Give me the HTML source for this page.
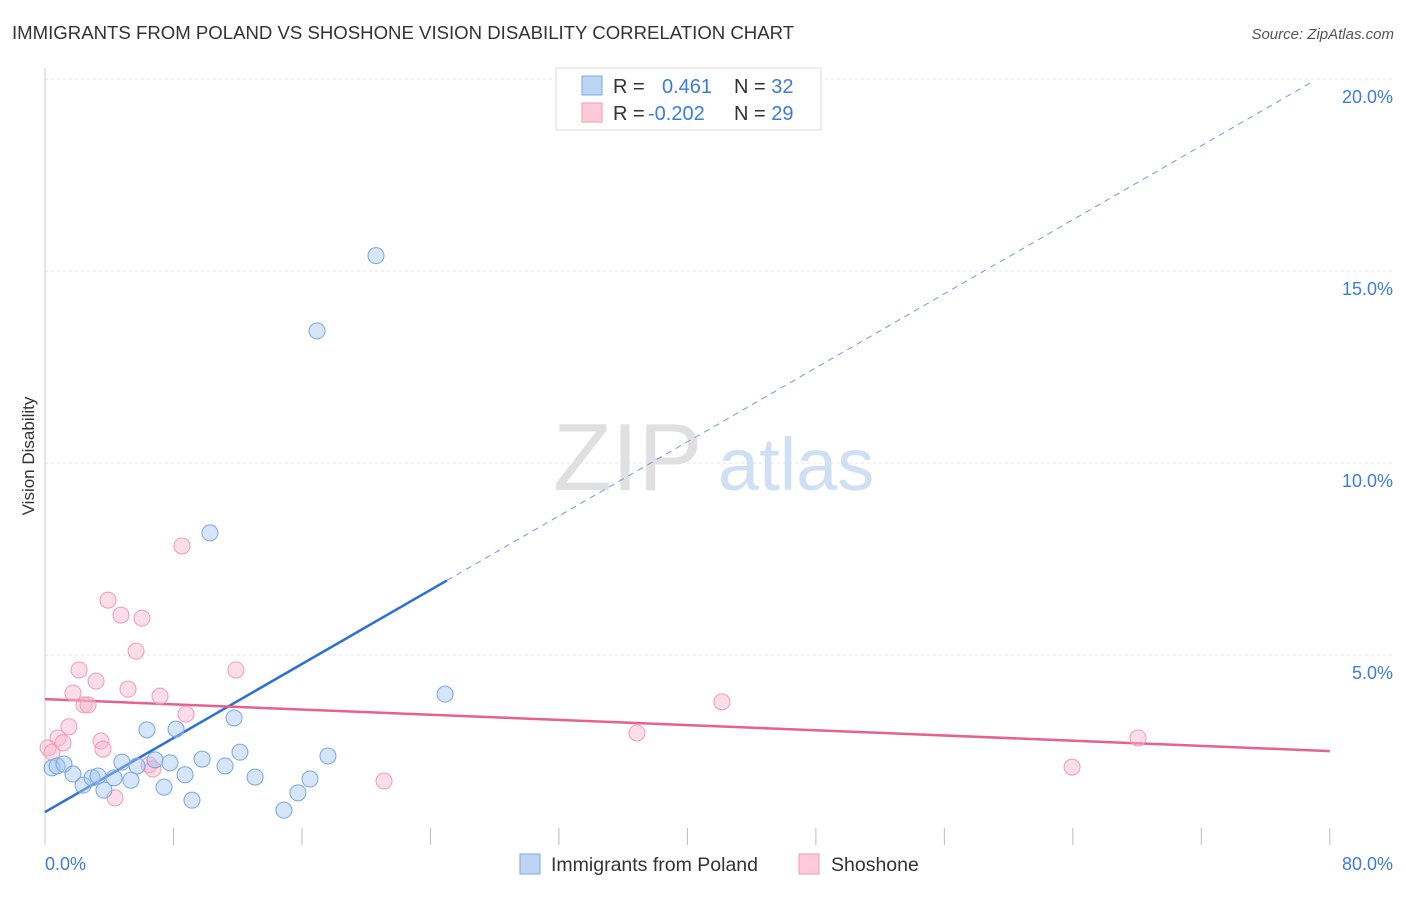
<!DOCTYPE html>
<html><head><meta charset="utf-8"><style>
body{margin:0;background:#fff;font-family:"Liberation Sans",sans-serif}
svg text{font-family:"Liberation Sans",sans-serif}
</style></head><body>
<svg width="1406" height="892" viewBox="0 0 1406 892">
<text x="12" y="39" font-size="18.6" fill="#333">IMMIGRANTS FROM POLAND VS SHOSHONE VISION DISABILITY CORRELATION CHART</text>
<text x="1394" y="39" font-size="15" fill="#555" text-anchor="end" font-style="italic">Source: ZipAtlas.com</text>
<text x="34" y="456" font-size="17" fill="#333" text-anchor="middle" transform="rotate(-90 34 456)">Vision Disability</text>
<g id="grid"></g>
<g id="ticks"></g>
<line x1="45" y1="68" x2="45" y2="845" stroke="#ccc"/>
<text x="553" y="490" font-size="96" fill="#e0e0e0" font-family="Liberation Serif">ZIP</text>
<text x="718" y="490" font-size="74" fill="#cfe0f5">atlas</text>
<g id="lines"></g>
<g id="pts"></g>
<text x="45" y="870" font-size="18" fill="#3b7dd8">0.0%</text>
<text x="1393" y="870" font-size="18" fill="#3b7dd8" text-anchor="end">80.0%</text>
<g>
<rect x="556" y="68" width="265" height="62" fill="#fff" stroke="#ddd"/>
<rect x="582" y="76" width="20" height="19" fill="#bcd5f5" stroke="#7aa8e4"/>
<rect x="582" y="103" width="20" height="19" fill="#fbcbd9" stroke="#f09ab5"/>
<text x="613" y="93" font-size="20" fill="#333">R = <tspan fill="#3b7dd8" x="662">0.461</tspan><tspan x="734">N = </tspan><tspan fill="#3b7dd8">32</tspan></text>
<text x="613" y="120" font-size="20" fill="#333">R = <tspan fill="#3b7dd8" x="648">-0.202</tspan><tspan x="734">N = </tspan><tspan fill="#3b7dd8">29</tspan></text>
</g>
<g>
<rect x="520" y="854" width="20" height="20" fill="#bcd5f5" stroke="#7aa8e4"/>
<text x="551" y="871" font-size="19.5" fill="#333">Immigrants from Poland</text>
<rect x="799" y="854" width="20" height="20" fill="#fbcbd9" stroke="#f09ab5"/>
<text x="831" y="871" font-size="19.5" fill="#333">Shoshone</text>
</g>
</svg>
<script>
const blueX=[0.44,0.75,1.18,1.74,2.37,2.93,3.30,3.67,4.30,4.79,5.35,5.73,6.35,6.85,7.41,7.78,8.16,8.72,9.15,9.78,10.27,11.21,11.77,12.14,13.08,14.88,15.75,16.50,17.62,16.94,20.61,24.91];
const blueY=[2.06,2.11,2.16,1.90,1.61,1.80,1.85,1.48,1.80,2.21,1.74,2.11,3.05,2.27,1.56,2.19,3.07,1.88,1.22,2.29,8.18,2.11,3.36,2.47,1.82,0.96,1.41,1.77,2.37,13.44,15.40,3.98];
const pinkX=[0.19,0.44,0.81,1.12,1.49,1.74,2.12,2.43,2.68,3.18,3.49,3.61,3.92,4.36,4.73,5.17,5.67,6.04,6.48,6.72,7.16,8.53,8.78,11.89,21.11,36.86,42.15,63.95,68.06];
const pinkY=[2.58,2.47,2.84,2.71,3.13,4.01,4.61,3.70,3.70,4.32,2.76,2.55,6.43,1.28,6.04,4.11,5.10,5.96,2.14,2.03,3.93,7.84,3.46,4.61,1.72,2.97,3.78,2.08,2.84];
const yTicks=[5,10,15,20];
const yTickLabels=["5.0%","10.0%","15.0%","20.0%"];
const xTicks=[0,8,16,24,32,40,48,56,64,72,80];
const blueTrend=[0.91,0.241];
const pinkTrend=[3.85,-0.0169];
const X=v=>45+v*16.06, Y=v=>847-v*38.4;
const NS="http://www.w3.org/2000/svg";
function mk(t,a,p){const e=document.createElementNS(NS,t);for(const k in a)e.setAttribute(k,a[k]);document.getElementById(p).appendChild(e);return e;}
yTicks.forEach((t,i)=>{
 const l=mk('line',{x1:45,x2:1393,y1:Y(t),y2:Y(t),stroke:'#e6e6e6','stroke-dasharray':'3,3'},'grid');
 
 
 const tx=mk('text',{x:1393,y:Y(t)+24,'font-size':18,fill:'#3b7dd8','text-anchor':'end'},'grid');
 tx.textContent=yTickLabels[i];
 
 
});
xTicks.forEach(t=>{
 const l=mk('line',{x1:X(t),x2:X(t),y1:828,y2:845,stroke:'#bbb'},'ticks');
 
 
});
const bEnd=25.03;
let l=mk('line',{x1:X(0),y1:Y(blueTrend[0]),x2:X(bEnd),y2:Y(blueTrend[0]+blueTrend[1]*bEnd),stroke:'#2a70d6','stroke-width':2.5},'lines');


l=mk('line',{x1:X(bEnd),y1:Y(blueTrend[0]+blueTrend[1]*bEnd),x2:X(78.8),y2:Y(blueTrend[0]+blueTrend[1]*78.8),stroke:'#6a9de0','stroke-width':1,'stroke-dasharray':'6,5'},'lines');


l=mk('line',{x1:X(0),y1:Y(pinkTrend[0]),x2:X(80),y2:Y(pinkTrend[0]+pinkTrend[1]*80),stroke:'#e8608e','stroke-width':2.5},'lines');


pinkX.forEach((x,i)=>{
 const c=mk('circle',{cx:X(x),cy:Y(pinkY[i]),r:8,fill:'rgba(248,182,204,0.45)',stroke:'#f29ab6','stroke-width':1},'pts');
 
 
});
blueX.forEach((x,i)=>{
 const c=mk('circle',{cx:X(x),cy:Y(blueY[i]),r:8,fill:'rgba(164,198,240,0.45)',stroke:'#78a6e2','stroke-width':1},'pts');
 
 
});
</script>
</body></html>
